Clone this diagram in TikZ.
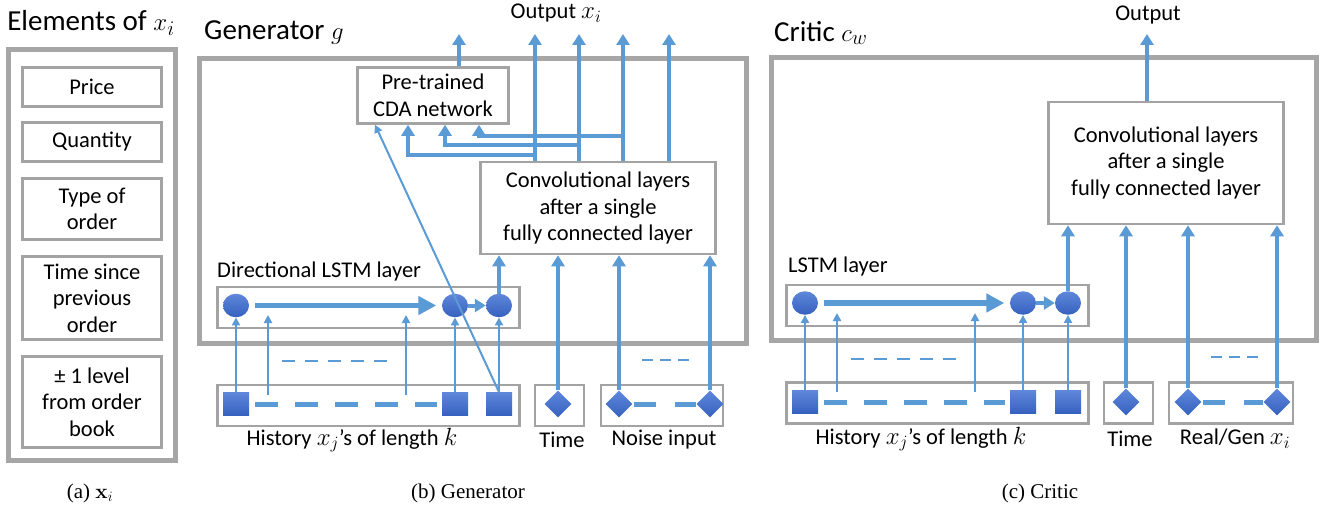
\documentclass[tikz,border=0pt]{standalone}
\usepackage[no-math]{fontspec}
\setmainfont{Carlito}
\newfontfamily\capfont{Liberation Serif}
\usetikzlibrary{arrows.meta,shapes.geometric}
\definecolor{ablue}{HTML}{5B9BD5}
\definecolor{obox}{HTML}{A6A6A6}
\definecolor{ibox}{HTML}{A3A3A3}
\definecolor{ntop}{HTML}{5F87DA}
\definecolor{nbot}{HTML}{3561BF}
\newcommand{\mx}[1]{{\fontsize{25.5}{26}\selectfont$#1$}}
\newcommand{\tmx}[1]{{\fontsize{32.5}{33}\selectfont$#1$}}
\tikzset{
  body/.style={font=\fontsize{22.5}{26.5}\selectfont, align=center, inner sep=0pt},
  ttl/.style={font=\fontsize{29}{33}\selectfont, inner sep=0pt},
  capt/.style={font=\capfont\fontsize{21}{25}\selectfont, inner sep=0pt},
  boxx/.style={draw=ibox, line width=2.5pt, fill=white, body},
  outer/.style={draw=obox, line width=5pt, inner sep=0pt},
  ta/.style={draw=ablue, line width=4pt, -{Triangle[length=11pt,width=13pt]}},
  tn/.style={draw=ablue, line width=2pt, -{Triangle[length=8pt,width=8pt]}},
  big/.style={draw=ablue, line width=5.5pt, -{Triangle[length=18pt,width=18pt]}},
  tdash/.style={draw=ablue, line width=5pt, dash pattern=on 23pt off 17pt},
  ndash/.style={draw=ablue, line width=5pt, dash pattern=on 22pt off 19pt},
  sdash/.style={draw=ablue, line width=2.2pt, dash pattern=on 13pt off 10pt},
  sdash2/.style={draw=ablue, line width=2.2pt, dash pattern=on 11pt off 7pt},
  fillnode/.style={inner sep=0pt, draw=none, top color=ntop, bottom color=nbot},
  cell/.style={fillnode, ellipse, minimum width=26pt, minimum height=23.5pt},
  sq/.style={fillnode, rectangle, minimum width=26pt, minimum height=23.5pt},
  dia/.style={fillnode, diamond, minimum size=27pt},
}
\begin{document}
\begin{tikzpicture}[x=1pt,y=-1pt]
\useasboundingbox (0,0) rectangle (1332,508);
% ---------- (a) ----------
\node[ttl] (ttlA) at (91,23) {Elements of \tmx{x_i}};
\node[outer, minimum width=167pt, minimum height=410pt] (boxA) at (91.5,255) {};
\node[boxx, minimum width=139pt, minimum height=39pt] (price) at (92,87) {Price};
\node[boxx, minimum width=139pt, minimum height=39pt] (qty) at (92,142) {Quantity};
\node[boxx, minimum width=139pt, minimum height=61pt] (type) at (92,209) {Type of\\order};
\node[boxx, minimum width=139pt, minimum height=83pt] (tsince) at (92,298) {Time since\\previous\\order};
\node[boxx, minimum width=139pt, minimum height=91pt] (lvl) at (92,402) {± 1 level\\from order\\book};
\node[capt] (capA) at (90,493) {(a) $\mathbf{x}_i$};
% ---------- (b) Generator ----------
\node[ttl, anchor=west] (ttlB) at (204,33) {Generator \tmx{g}};
\node[outer, minimum width=547pt, minimum height=284pt] (genbox) at (472.5,201) {};
\node[body] (outB) at (556,13) {Output \mx{x_i}};
\node[boxx, minimum width=151pt, minimum height=56pt] (pre) at (433,95.5) {Pre-trained\\CDA network};
\node[boxx, minimum width=235pt, minimum height=92pt] (convB) at (598,208) {Convolutional layers\\after a single\\fully connected layer};
\node[body, anchor=west] (lstmBt) at (217,271) {Directional LSTM layer};
\node[boxx, minimum width=302pt, minimum height=41pt] (lstmB) at (368.5,307.5) {};
\node[cell] (b1) at (236,305.5) {};
\node[cell] (b2) at (455,305.5) {};
\node[cell] (b3) at (499,305.5) {};
\node[boxx, minimum width=302pt, minimum height=41pt] (histB) at (368.5,405.5) {};
\node[sq] (s1) at (236,404) {};
\node[sq] (s2) at (455,404) {};
\node[sq] (s3) at (499,404) {};
\node[boxx, minimum width=49pt, minimum height=41pt] (timeB) at (559.5,405.5) {};
\node[dia] (tB) at (558,404) {};
\node[boxx, minimum width=122pt, minimum height=41pt] (noiseB) at (662,405.5) {};
\node[dia] (n1) at (619,404) {};
\node[dia] (n2) at (710,404) {};
\node[body] (histBl) at (352,440) {History \mx{x_j}’s of length \mx{k}};
\node[body] (timeBl) at (562,440) {Time};
\node[body] (noiseBl) at (664,440) {Noise input};
\node[capt] (capB) at (468,493) {(b) Generator};
% coordinates
\coordinate (oA) at (459,34);
\coordinate (o1) at (535,34);
\coordinate (o2) at (579,34);
\coordinate (o3) at (623,34);
\coordinate (o4) at (669,34);
\coordinate (j1) at (535,155);
\coordinate (j2) at (579,145);
\coordinate (j3) at (623,136);
\coordinate (p1) at (408,0);
\coordinate (p2) at (445,0);
\coordinate (p3) at (479,0);
\coordinate (dg) at (375,0);
\coordinate (fa1) at (268,395);
\coordinate (fb1) at (268,315);
\coordinate (fa2) at (406,395);
\coordinate (fb2) at (406,315);
\coordinate (da1) at (282,361);
\coordinate (db1) at (388,361);
\coordinate (da2) at (642,360);
\coordinate (db2) at (689,360);
% connectors
\draw[ta] (pre.north -| oA) -- (oA);
\draw[ta] (convB.north -| o1) -- (o1);
\draw[ta] (convB.north -| o2) -- (o2);
\draw[ta] (convB.north -| o3) -- (o3);
\draw[ta] (convB.north -| o4) -- (o4);
\draw[ta] (j1) -| (pre.south -| p1);
\draw[ta] (j2) -| (pre.south -| p2);
\draw[ta] (j3) -| (pre.south -| p3);
\draw[ta] (b3.north) -- (convB.south -| b3);
\draw[ta] (tB.north) -- (convB.south -| tB);
\draw[ta] (n1.north) -- (convB.south -| n1);
\draw[ta] (n2.north) -- (convB.south -| n2);
\draw[big, shorten <=6pt, shorten >=5.5pt] (b1.east) -- (b2.west);
\draw[ta] (b2.east) -- (b3.west);
\draw[tn] (s1.north) -- (b1.south);
\draw[tn] (s2.north) -- (b2.south);
\draw[tn] (s3.north) -- (b3.south);
\draw[tn] (fa1) -- (fb1);
\draw[tn] (fa2) -- (fb2);
\draw[tn] (s3.north) -- (pre.south -| dg);
\draw[tdash, shorten <=6pt, shorten >=5pt] (s1.east) -- (s2.west);
\draw[ndash, shorten <=1.5pt, shorten >=0pt] (n1.east) -- (n2.west);
\draw[sdash] (da1) -- (db1);
\draw[sdash2] (da2) -- (db2);
% ---------- (c) Critic ----------
\node[ttl, anchor=west] (ttlC) at (774,33) {Critic \tmx{c_w}};
\node[outer, minimum width=545pt, minimum height=282pt] (critbox) at (1043.5,199) {};
\node[body] (outC) at (1148,15) {Output};
\node[boxx, minimum width=235pt, minimum height=122pt] (convC) at (1166,163) {Convolutional layers\\after a single\\fully connected layer};
\node[body, anchor=west] (lstmCt) at (788,266) {LSTM layer};
\node[boxx, minimum width=302pt, minimum height=41pt] (lstmC) at (937.5,305.5) {};
\node[cell] (c1) at (805,303) {};
\node[cell] (c2) at (1023,303) {};
\node[cell] (c3) at (1068,303) {};
\node[boxx, minimum width=302pt, minimum height=41pt] (histC) at (937.5,403) {};
\node[sq] (q1) at (805,402) {};
\node[sq] (q2) at (1023,402) {};
\node[sq] (q3) at (1068,402) {};
\node[boxx, minimum width=49pt, minimum height=41pt] (timeC) at (1128.5,403) {};
\node[dia] (tC) at (1126,402) {};
\node[boxx, minimum width=124pt, minimum height=41pt] (rgC) at (1231,403) {};
\node[dia] (r1) at (1188,402) {};
\node[dia] (r2) at (1277,402) {};
\node[body] (histCl) at (921,439) {History \mx{x_j}’s of length \mx{k}};
\node[body] (timeCl) at (1130,439) {Time};
\node[body] (rgCl) at (1235,439) {Real/Gen \mx{x_i}};
\node[capt] (capC) at (1040,493) {(c) Critic};
\coordinate (oc) at (1147,34);
\coordinate (ga1) at (837,392);
\coordinate (gb1) at (837,313);
\coordinate (ga2) at (975,392);
\coordinate (gb2) at (975,313);
\coordinate (ea1) at (851,359);
\coordinate (eb1) at (957,359);
\coordinate (ea2) at (1211,357);
\coordinate (eb2) at (1258,357);
\draw[ta] (convC.north -| oc) -- (oc);
\draw[ta] (c3.north) -- (convC.south -| c3);
\draw[ta] (tC.north) -- (convC.south -| tC);
\draw[ta] (r1.north) -- (convC.south -| r1);
\draw[ta] (r2.north) -- (convC.south -| r2);
\draw[big, shorten <=6pt, shorten >=5.5pt] (c1.east) -- (c2.west);
\draw[ta] (c2.east) -- (c3.west);
\draw[tn] (q1.north) -- (c1.south);
\draw[tn] (q2.north) -- (c2.south);
\draw[tn] (q3.north) -- (c3.south);
\draw[tn] (ga1) -- (gb1);
\draw[tn] (ga2) -- (gb2);
\draw[tdash, shorten <=6pt, shorten >=5pt] (q1.east) -- (q2.west);
\draw[ndash, shorten <=1.5pt, shorten >=0pt] (r1.east) -- (r2.west);
\draw[sdash] (ea1) -- (eb1);
\draw[sdash2] (ea2) -- (eb2);
\end{tikzpicture}
\end{document}
